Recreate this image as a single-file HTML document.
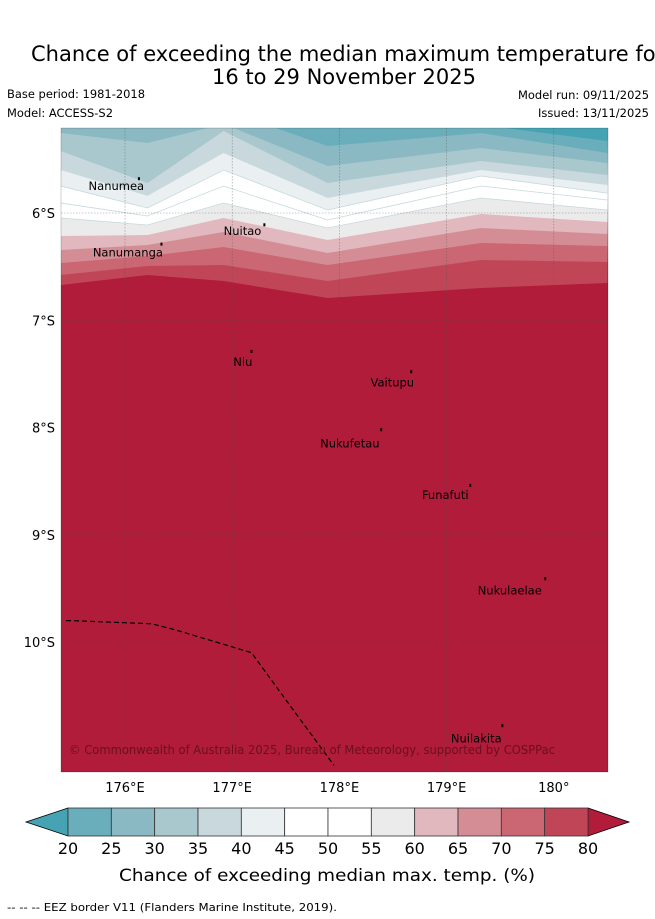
<!DOCTYPE html>
<html><head><meta charset="utf-8"><style>
html,body{margin:0;padding:0;background:#fff;}
svg{display:block;font-family:"DejaVu Sans","Liberation Sans",sans-serif;}
</style></head><body>
<svg id="fig" width="655" height="919" viewBox="0 0 655 919">
<text x="31" y="61" font-size="21">Chance of exceeding the median maximum temperature for</text>
<text x="344" y="84" font-size="21" text-anchor="middle">16 to 29 November 2025</text>
<text x="7" y="98" font-size="11.5" textLength="138" lengthAdjust="spacingAndGlyphs">Base period: 1981-2018</text>
<text x="7" y="117" font-size="11.5" textLength="106" lengthAdjust="spacingAndGlyphs">Model: ACCESS-S2</text>
<text x="649" y="99" font-size="11.5" text-anchor="end" textLength="131" lengthAdjust="spacingAndGlyphs">Model run: 09/11/2025</text>
<text x="649" y="117" font-size="11.5" text-anchor="end" textLength="111" lengthAdjust="spacingAndGlyphs">Issued: 13/11/2025</text>
<defs><clipPath id="mapclip"><rect x="61" y="128" width="547" height="644"/></clipPath></defs>
<g id="map" clip-path="url(#mapclip)"></g>
<g id="overlay"></g>
<g id="cbar"></g>
<text x="119" y="881" font-size="17" textLength="416" lengthAdjust="spacingAndGlyphs">Chance of exceeding median max. temp. (%)</text>
<text x="7" y="911" font-size="11" textLength="330" lengthAdjust="spacingAndGlyphs">--  --  -- EEZ border V11 (Flanders Marine Institute, 2019).</text>
</svg>
<script>
// ---- data ----
const lons = [175.4, 176.21, 176.92, 177.89, 179.32, 180.5];
const levels = [20,25,30,35,40,45,50,55,60,65,70,75,80];
const c20 = [4.946, 4.853, 4.853, 5.133, 5.179, 5.329];
const c25 = [5.133, 4.946, 5.040, 5.375, 5.254, 5.441];
const c30 = [5.254, 5.347, 5.170, 5.562, 5.394, 5.534];
const c35 = [5.422, 5.720, 5.235, 5.720, 5.515, 5.646];
const c40 = [5.599, 5.841, 5.441, 5.860, 5.599, 5.739];
const c45 = [5.748, 5.953, 5.599, 5.972, 5.655, 5.814];
const c50 = [5.907, 6.028, 5.748, 6.065, 5.748, 5.879];
const c55 = [6.047, 6.112, 5.907, 6.140, 5.860, 5.972];
const c60 = [6.214, 6.205, 6.047, 6.252, 6.009, 6.084];
const c65 = [6.345, 6.298, 6.177, 6.373, 6.140, 6.196];
const c70 = [6.466, 6.401, 6.317, 6.485, 6.280, 6.308];
const c75 = [6.578, 6.494, 6.485, 6.634, 6.438, 6.457];
const c80 = [6.671, 6.578, 6.634, 6.793, 6.699, 6.653];
const contours = [c20,c25,c30,c35,c40,c45,c50,c55,c60,c65,c70,c75,c80];
const bandColors = ["#45a3b3","#6aaebb","#8ab8c3","#a9c8cd","#c8d8dd","#eaf0f2","#ffffff","#ffffff","#ecebec","#e0b8bd","#d58d95","#cb6673","#c04657","#b01c39"];
const lonTicks = [176,177,178,179,180];
const lonTickLabels = ["176°E","177°E","178°E","179°E","180°"];
const latTicks = [6,7,8,9,10];
const latTickLabels = ["6°S","7°S","8°S","9°S","10°S"];
const islandNames = ["Nanumea","Nuitao","Nanumanga","Niu","Vaitupu","Nukufetau","Funafuti","Nukulaelae","Nuilakita"];
const islandLon = [176.13,177.3,176.34,177.18,178.67,178.39,179.22,179.92,179.52];
const islandLat = [5.68,6.11,6.29,7.29,7.48,8.02,8.54,9.41,10.78];
const labelLon = [175.66,176.92,175.7,177.01,178.29,177.82,178.77,179.29,179.04];
const labelLat = [5.75,6.17,6.37,7.39,7.58,8.15,8.63,9.52,10.9];
const eezLon = [175.45,175.5,176.25,176.48,177.18,177.53,177.95];
const eezLat = [9.8,9.8,9.83,9.89,10.1,10.58,11.15];
const cbLabels = ["20","25","30","35","40","45","50","55","60","65","70","75","80"];

// ---- axes ----
const X0=61,X1=608,Y0=128,Y1=772;
const xs = lon => 125 + (lon-176)*107.2;
const ys = lat => 213 + (lat-6)*107.25;
const NS="http://www.w3.org/2000/svg";
function mk(tag, parent){const e=document.createElementNS(NS,tag);parent.appendChild(e);return e;}
const map=document.getElementById('map'), ov=document.getElementById('overlay'), cb=document.getElementById('cbar');

const bg=mk('rect',map);


bg.setAttribute('x',X0);bg.setAttribute('y',Y0);bg.setAttribute('width',X1-X0);bg.setAttribute('height',Y1-Y0);bg.setAttribute('fill',bandColors[13]);

for(let k=contours.length-1;k>=0;k--){
  const c=contours[k];
  let pts=[[X0-2,Y0-2]];
  lons.forEach((l,i)=>pts.push([xs(l),ys(c[i])]));
  pts.push([X1+2,Y0-2]);
  const p=mk('polygon',map);
  
  
  p.setAttribute('points',pts.map(q=>q[0].toFixed(1)+','+q[1].toFixed(1)).join(' '));
  p.setAttribute('fill',bandColors[k]);
}
[5,6,7].forEach(k=>{
  const c=contours[k];
  const l=mk('polyline',map);
  
  
  l.setAttribute('points',lons.map((lo,i)=>xs(lo).toFixed(1)+','+ys(c[i]).toFixed(1)).join(' '));
  l.setAttribute('fill','none');l.setAttribute('stroke','#c8d8dd');l.setAttribute('stroke-width','0.8');
});

lonTicks.forEach((t,i)=>{
  const g=mk('line',ov);
  
  
  g.setAttribute('x1',xs(t));g.setAttribute('x2',xs(t));g.setAttribute('y1',Y0);g.setAttribute('y2',Y1);
  g.setAttribute('stroke','#555');g.setAttribute('stroke-width','0.6');g.setAttribute('stroke-dasharray','1.5,1.5');g.setAttribute('opacity','0.6');
  const tx=mk('text',ov);
  
  
  tx.setAttribute('x',xs(t));tx.setAttribute('y',792);tx.setAttribute('font-size','13');tx.setAttribute('text-anchor','middle');
  tx.textContent=lonTickLabels[i];
});
latTicks.forEach((t,i)=>{
  const g=mk('line',ov);
  
  
  g.setAttribute('x1',X0);g.setAttribute('x2',X1);g.setAttribute('y1',ys(t));g.setAttribute('y2',ys(t));
  g.setAttribute('stroke','#555');g.setAttribute('stroke-width','0.6');g.setAttribute('stroke-dasharray','1.5,1.5');g.setAttribute('opacity','0.6');
  const tx=mk('text',ov);
  
  
  tx.setAttribute('x',55);tx.setAttribute('y',ys(t)+5);tx.setAttribute('font-size','13');tx.setAttribute('text-anchor','end');
  tx.textContent=latTickLabels[i];
});

const eez=mk('polyline',ov);


eez.setAttribute('points',eezLon.map((l,i)=>xs(l).toFixed(1)+','+ys(eezLat[i]).toFixed(1)).join(' '));
eez.setAttribute('fill','none');eez.setAttribute('stroke','#000');eez.setAttribute('stroke-width','1.2');eez.setAttribute('stroke-dasharray','5,3');

islandNames.forEach((n,i)=>{
  const m=mk('rect',ov);
  
  
  m.setAttribute('x',xs(islandLon[i])-1);m.setAttribute('y',ys(islandLat[i])-1.5);m.setAttribute('width',2);m.setAttribute('height',3);m.setAttribute('fill','#000');
  const t=mk('text',ov);
  
  
  t.setAttribute('x',xs(labelLon[i]));t.setAttribute('y',ys(labelLat[i])+4);t.setAttribute('font-size','11.5');
  t.textContent=n;
});

const cr=mk('text',ov);


cr.setAttribute('x',69);cr.setAttribute('y',754);cr.setAttribute('font-size','12');cr.setAttribute('fill','#6a1020');
cr.setAttribute('textLength','486');cr.setAttribute('lengthAdjust','spacingAndGlyphs');
cr.textContent='© Commonwealth of Australia 2025, Bureau of Meteorology, supported by COSPPac';

const fr=mk('rect',ov);


fr.setAttribute('x',X0);fr.setAttribute('y',Y0);fr.setAttribute('width',X1-X0);fr.setAttribute('height',Y1-Y0);fr.setAttribute('fill','none');fr.setAttribute('stroke','#000');fr.setAttribute('stroke-width','0.6');fr.setAttribute('opacity','0.3');

// colorbar
const CB0=68,CB1=588,CBY=808,CBH=28;
const cw=(CB1-CB0)/12;
const lt=mk('polygon',cb);


lt.setAttribute('points',`${CB0},${CBY} 26,${CBY+CBH/2} ${CB0},${CBY+CBH}`);lt.setAttribute('fill',bandColors[0]);lt.setAttribute('stroke','#000');lt.setAttribute('stroke-width','0.8');
const rt=mk('polygon',cb);


rt.setAttribute('points',`${CB1},${CBY} 629,${CBY+CBH/2} ${CB1},${CBY+CBH}`);rt.setAttribute('fill',bandColors[13]);rt.setAttribute('stroke','#000');rt.setAttribute('stroke-width','0.8');
for(let i=0;i<12;i++){
  const r=mk('rect',cb);
  
  
  r.setAttribute('x',CB0+i*cw);r.setAttribute('y',CBY);r.setAttribute('width',cw);r.setAttribute('height',CBH);r.setAttribute('fill',bandColors[i+1]);r.setAttribute('stroke','#333');r.setAttribute('stroke-width','0.8');
}
cbLabels.forEach((s,i)=>{
  const t=mk('text',cb);
  
  
  t.setAttribute('x',CB0+i*cw);t.setAttribute('y',854);t.setAttribute('font-size','16');t.setAttribute('text-anchor','middle');
  t.textContent=s;
});
</script>
</body></html>
